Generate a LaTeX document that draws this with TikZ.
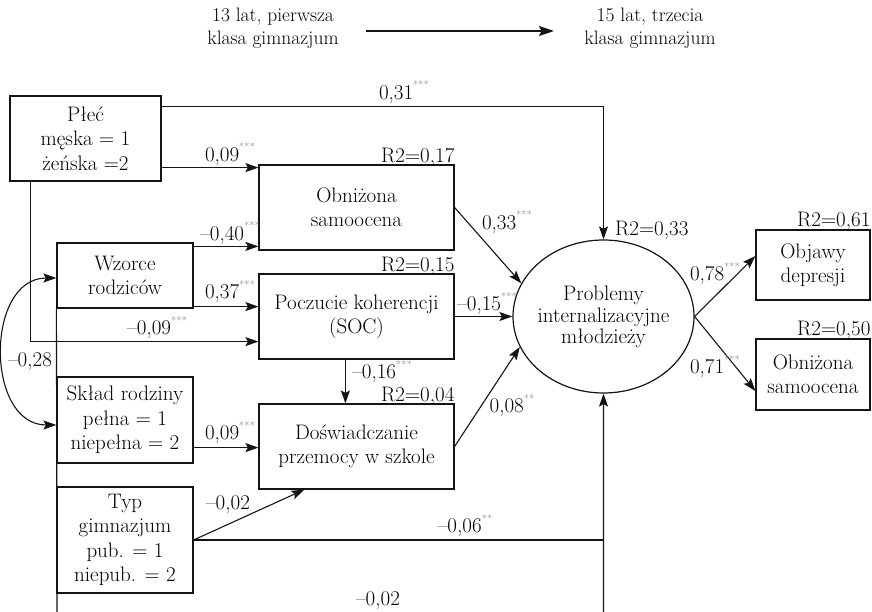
\documentclass[tikz,border=0pt]{standalone}
\usetikzlibrary{arrows.meta,shapes.geometric}
% small grey significance stars
\newcommand\pstar[1]{\raisebox{0.5em}{\textcolor{black!45}{\fontsize{10.5}{10.5}\selectfont #1}}}
\begin{document}
\begin{tikzpicture}[x=1pt,y=-1pt,
  txt/.style={font=\fontsize{21}{24.3}\selectfont, text=black},
  box/.style={txt, draw=black!92, line width=1.2pt, rectangle, align=center, inner sep=0pt},
  lab/.style={txt, inner sep=0pt, anchor=base},
  rlab/.style={txt, inner sep=0pt, anchor=base east},
  link/.style={draw=black!92, line width=1.1pt},
  tip/.tip={Stealth[length=13pt,width=9pt,inset=2.5pt]},
  arr/.style={link, -tip},
  darr/.style={link, tip-tip},
]
\useasboundingbox (0,0) rectangle (872,612);

% header: time line
\node[txt, align=center, font=\fontsize{19.5}{22.5}\selectfont] (h1) at (273,28) {13 lat, pierwsza\\klasa gimnazjum};
\node[txt, align=center, font=\fontsize{19.5}{22.5}\selectfont] (h2) at (650,28) {15 lat, trzecia\\klasa gimnazjum};
\coordinate (ha) at (366,31);
\coordinate (hb) at (554,31);
\draw[link, line width=1.9pt, -{Stealth[length=15pt,width=10pt,inset=2.5pt]}] (ha) -- (hb);

% predictors
\node[box, minimum width=151pt, minimum height=85pt] (pl) at (85.5,138.5) {Płeć\\męska = 1\\żeńska =2};
\node[box, minimum width=136pt, minimum height=65pt] (wz) at (125,275.5) {Wzorce\\rodziców};
\node[box, minimum width=136pt, minimum height=86pt] (sk) at (125,420) {Skład rodziny\\pełna = 1\\niepełna = 2};
\node[box, minimum width=136pt, minimum height=106pt] (typ) at (125,540) {Typ\\gimnazjum\\pub. = 1\\niepub. = 2};

% mediators
\node[box, minimum width=195pt, minimum height=85pt] (obn) at (356.5,207.5) {Obniżona\\samoocena};
\node[box, minimum width=195pt, minimum height=85pt] (soc) at (356.5,316.5) {Poczucie koherencji\\(SOC)};
\node[box, minimum width=195pt, minimum height=85pt] (dos) at (356.5,446.5) {Doświadczanie\\przemocy w szkole};

% latent outcome
\node[draw=black!92, line width=1.2pt, ellipse, minimum width=181pt, minimum height=153pt, inner sep=0pt] (ell) at (603.5,316.5) {};
\node[txt, align=center, font=\fontsize{21}{21.8}\selectfont] (ellt) at (603.5,317) {Problemy\\internalizacyjne\\młodzieży};

% indicators
\node[box, minimum width=114pt, minimum height=70pt] (obj) at (813,265) {Objawy\\depresji};
\node[box, minimum width=114pt, minimum height=71pt] (obn2) at (813,374.5) {Obniżona\\samoocena};

% explained variance
\node[rlab] (r1) at ([yshift=2pt]obn.north east) {R2=0,17};
\node[rlab] (r2) at ([yshift=2pt]soc.north east) {R2=0,15};
\node[rlab] (r3) at ([yshift=2pt]dos.north east) {R2=0,04};
\node[txt, inner sep=0pt, anchor=base west] (r4) at (615,236) {R2=0,33};
\node[rlab] (r5) at ([yshift=3pt]obj.north east) {R2=0,61};
\node[rlab] (r6) at ([yshift=3pt]obn2.north east) {R2=0,50};

% paths from Płeć
\coordinate (p0) at ([yshift=-11pt]pl.north east);
\draw[arr] (p0) -| (ell.north);
\coordinate (p1) at ([yshift=14pt]pl.south east);
\draw[arr] (p1) -- (p1 -| obn.west);
\coordinate (p2) at ([xshift=21pt]pl.south west);
\coordinate (p3) at ([yshift=18pt]soc.south west);
\draw[arr] (p2) |- (p3);

% paths from Wzorce rodziców
\coordinate (w1) at ([yshift=-4pt]wz.north east);
\draw[arr] (w1) -- (w1 -| obn.west);
\coordinate (w2) at ([yshift=2pt]wz.south east);
\draw[arr] (w2) -- (w2 -| soc.west);
\coordinate (w3) at (wz.south west);
\coordinate (w4) at (57,615);
\draw[arr] (w3) -- (w4) -| (ell.south);

% correlation between Wzorce and Skład
\coordinate (cw1) at ([yshift=-2.5pt]wz.west);
\coordinate (cw2) at ([yshift=-5pt]sk.west);
\draw[darr] (cw1) .. controls (-15,278) and (-15,425) .. (cw2);

% paths from Skład rodziny and Typ gimnazjum
\coordinate (s1) at ([yshift=16pt]sk.south east);
\draw[arr] (s1) -- (s1 -| dos.west);
\coordinate (t1) at ([xshift=46pt]dos.south west);
\draw[arr] (typ.east) -- (t1);
\draw[link] (typ.east) -- (typ.east -| ell.south);

% mediators to outcome
\coordinate (c1) at ([xshift=87pt]soc.south west);
\draw[arr] (c1) -- (c1 |- dos.north);
\draw[arr] (obn.east) -- (ell.158);
\draw[arr] (soc.east) -- (ell.west);
\draw[arr] (dos.east) -- (ell.200);

% outcome to indicators
\draw[arr] (ell.east) -- ([yshift=9pt]obj.west);
\draw[arr] (ell.east) -- ([yshift=-16.5pt]obn2.west);

% path coefficients
\node[lab] (l1) at (404,99.5) {0,31\pstar{***}};
\node[lab] (l2) at (230,161.5) {0,09\pstar{***}};
\node[lab] (l3) at (230,240.5) {--0,40\pstar{***}};
\node[lab] (l4) at (230,298.5) {0,37\pstar{***}};
\node[lab] (l5) at (157,334.5) {--0,09\pstar{***}};
\node[lab] (l6) at (30,366.5) {--0,28};
\node[lab] (l7) at (230,439.5) {0,09\pstar{***}};
\node[lab] (l8) at (228,509.5) {--0,02};
\node[lab] (l9) at (465,532.5) {--0,06\pstar{**}};
\node[lab] (l10) at (378,605.5) {--0,02};
\node[lab] (l11) at (507,229.5) {0,33\pstar{***}};
\node[lab] (l12) at (487,310.5) {--0,15\pstar{***}};
\node[lab] (l13) at (382,378.5) {--0,16\pstar{***}};
\node[lab] (l14) at (512,412.5) {0,08\pstar{**}};
\node[lab] (l15) at (715,280.5) {0,78\pstar{***}};
\node[lab] (l16) at (715,373.5) {0,71\pstar{***}};
\end{tikzpicture}
\end{document}
